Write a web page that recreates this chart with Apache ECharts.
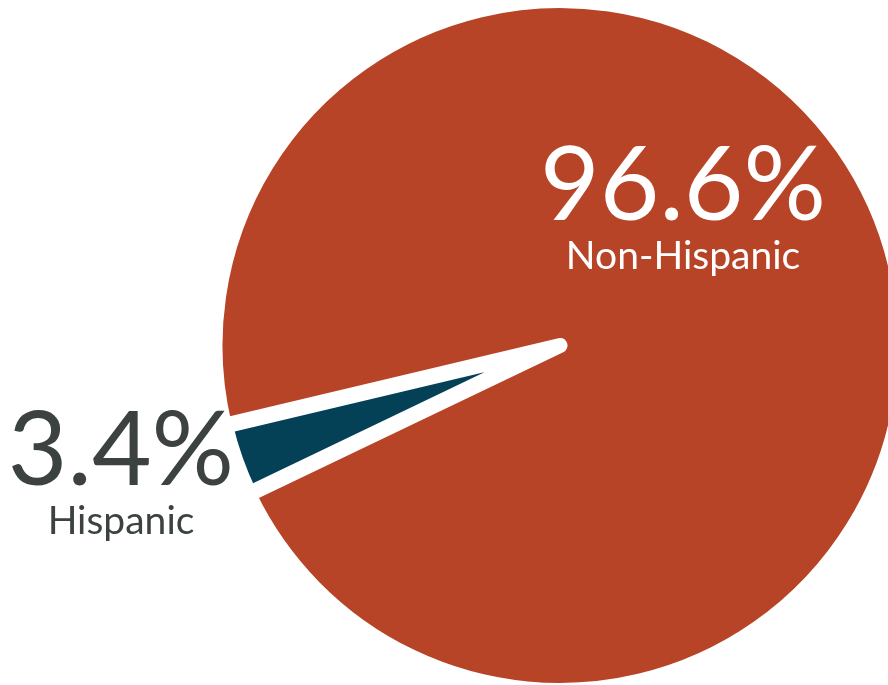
<!DOCTYPE html>
<html>
<head>
<meta charset="utf-8">
<script src="https://cdn.jsdelivr.net/npm/echarts@6/dist/echarts.min.js"></script>
<style>
html,body{margin:0;padding:0;background:#ffffff;}
#chart{width:888px;height:685px;}
</style>
</head>
<body>
<div id="chart"></div>
<script>
var categories = ['Hispanic', 'Non-Hispanic'];
var values = [3.4, 96.6];
var sliceColors = ['#044056', '#B84427'];

var chart = echarts.init(document.getElementById('chart'), null, {renderer: 'canvas'});

var data = categories.map(function (name, i) {
  var c = i === 0 ? '#3B4240' : '#ffffff';
  return {
    name: name,
    value: values[i],
    itemStyle: {
      color: sliceColors[i],
      borderColor: '#ffffff',
      borderWidth: i === 0 ? 17 : 15,
      borderJoin: 'round'
    },
    label: {
      rich: {
        v: {fontFamily: 'Lato', fontSize: 103, lineHeight: 96, color: c},
        n: {fontFamily: 'Lato', fontSize: 39, lineHeight: 42, color: c}
      }
    }
  };
});

var labelSpots = [
  {x: 121, y: 404},
  {x: 683, y: 139}
];

chart.setOption({
  animation: false,
  backgroundColor: '#ffffff',
  series: [{
    type: 'pie',
    center: [560, 345.5],
    radius: 345,
    startAngle: 205.6,
    clockwise: true,
    silent: true,
    avoidLabelOverlap: false,
    label: {
      show: true,
      position: 'outside',
      align: 'center',
      formatter: function (p) {
        return '{v|' + p.value.toFixed(1) + '%}\n{n|' + p.name + '}';
      }
    },
    labelLine: {show: false},
    labelLayout: function (params) {
      var s = labelSpots[params.dataIndex];
      return {x: s.x, y: s.y, align: 'center', verticalAlign: 'top'};
    },
    data: data
  }]
});
</script>
</body>
</html>
